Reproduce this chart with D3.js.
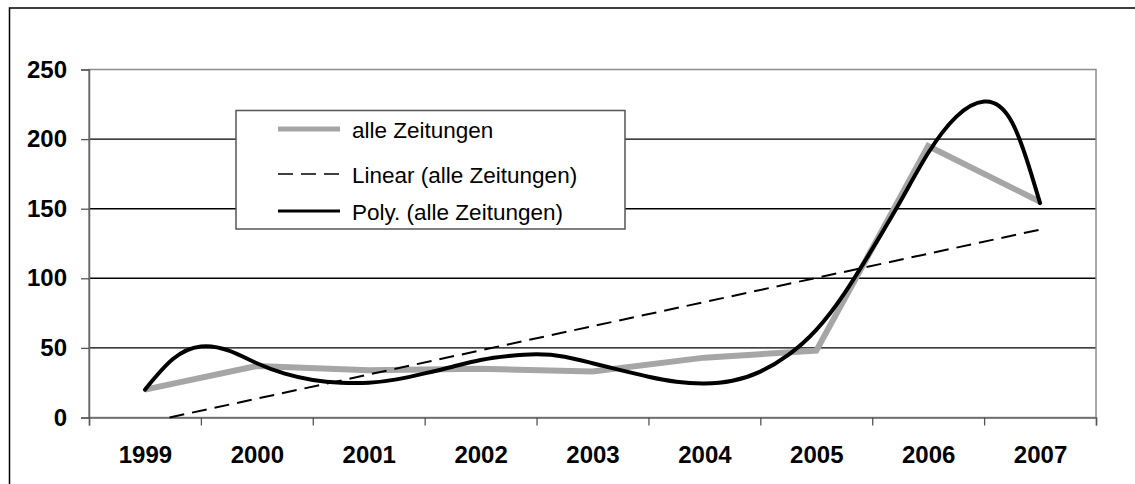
<!DOCTYPE html>
<html>
<head>
<meta charset="utf-8">
<script src="https://cdn.jsdelivr.net/npm/d3@7"></script>
<style>
  html, body { margin: 0; padding: 0; background: #fff; }
  svg { display: block; font-family: "Liberation Sans", Arial, sans-serif; }
</style>
</head>
<body>
<svg id="chart" width="1135" height="484"></svg>
<script>
// values
var years = [1999, 2000, 2001, 2002, 2003, 2004, 2005, 2006, 2007];
var alleZeitungen = [20, 37, 34, 35, 33, 43, 48, 195, 155];

// linear trend (Excel clips it at the 0 axis)
var linearYears = [1999.22, 2007];
var linearValues = [0, 135];

// 6th order poly trend, read every quarter year
var polyYears = [1999, 1999.25, 1999.5, 1999.75, 2000, 2000.25, 2000.5, 2000.75,
    2001, 2001.25, 2001.5, 2001.75, 2002, 2002.25, 2002.5, 2002.75,
    2003, 2003.25, 2003.5, 2003.75, 2004, 2004.25, 2004.5, 2004.75,
    2005, 2005.25, 2005.5, 2005.75, 2006, 2006.25, 2006.5, 2006.75, 2007];
var polyValues = [20, 42, 51, 48, 39, 31.5, 27, 25,
    25, 27.4, 31.7, 36.5, 41.3, 44.2, 45.4, 43.7,
    39, 34, 29.3, 25.7, 24.5, 26.4, 33, 45,
    63, 89, 121, 155, 190, 216, 227, 212, 154];

var yTicks = [0, 50, 100, 150, 200, 250];
var legendLabels = ['alle Zeitungen', 'Linear (alle Zeitungen)', 'Poly. (alle Zeitungen)'];

var GRAY = '#a6a6a6';
var AXIS_FONT = '24px';
var plot = { left: 89, right: 1096, top: 69.5, bottom: 417.5 };

var svg = d3.select('#chart');

// outer frame of the chart object (only top/left are inside the window)
svg.append('rect')
    .attr('x', 9.5).attr('y', 8)
    .attr('width', 1200).attr('height', 600)
    .attr('fill', 'none')
    .attr('stroke', '#000')
    .attr('stroke-width', 1.5);

var x = d3.scaleLinear()
    .domain([years[0] - 0.5, years[years.length - 1] + 0.5])
    .range([plot.left, plot.right]);
var y = d3.scaleLinear()
    .domain([0, 250])
    .range([plot.bottom, plot.top]);

// horizontal gridlines
svg.append('g')
    .selectAll('line')
    .data(yTicks.slice(1, -1))
    .enter().append('line')
    .attr('x1', plot.left).attr('x2', plot.right)
    .attr('y1', function(d) { return y(d); })
    .attr('y2', function(d) { return y(d); })
    .attr('stroke', '#000')
    .attr('stroke-width', 1.4);

// plot area border
svg.append('rect')
    .attr('x', plot.left).attr('y', plot.top)
    .attr('width', plot.right - plot.left)
    .attr('height', plot.bottom - plot.top)
    .attr('fill', 'none')
    .attr('stroke', '#8c8c8c')
    .attr('stroke-width', 1.5);

// y axis
var yAxis = svg.append('g')
    .attr('transform', 'translate(' + plot.left + ',0)')
    .call(d3.axisLeft(y).tickValues(yTicks).tickSize(8).tickPadding(14));
yAxis.select('.domain').attr('stroke', '#666').attr('stroke-width', 1.5);
yAxis.selectAll('.tick line').attr('stroke', '#555').attr('stroke-width', 1.3);
yAxis.selectAll('.tick text')
    .attr('fill', '#000')
    .style('font-size', AXIS_FONT)
    .style('font-weight', 'bold')
    .style('font-family', '"Liberation Sans", Arial, sans-serif');

// x axis: tick marks sit between the categories, labels in the middle
var boundaries = years.map(function(d) { return d - 0.5; }).concat([years[years.length - 1] + 0.5]);
var xTicks = svg.append('g')
    .attr('transform', 'translate(0,' + plot.bottom + ')')
    .call(d3.axisBottom(x).tickValues(boundaries).tickSize(8).tickFormat(''));
xTicks.select('.domain').attr('stroke', '#666').attr('stroke-width', 1.5);
xTicks.selectAll('.tick line').attr('stroke', '#555').attr('stroke-width', 1.3);

var xLabels = svg.append('g')
    .attr('transform', 'translate(0,' + plot.bottom + ')')
    .call(d3.axisBottom(x).tickValues(years).tickSize(0).tickPadding(28).tickFormat(d3.format('d')));
xLabels.select('.domain').remove();
xLabels.selectAll('.tick text')
    .attr('fill', '#000')
    .style('font-size', AXIS_FONT)
    .style('font-weight', 'bold')
    .style('font-family', '"Liberation Sans", Arial, sans-serif');

// data series
var line = d3.line()
    .x(function(d) { return x(d[0]); })
    .y(function(d) { return y(d[1]); });

svg.append('path')
    .datum(d3.zip(years, alleZeitungen))
    .attr('d', line)
    .attr('fill', 'none')
    .attr('stroke', GRAY)
    .attr('stroke-width', 6)
    .attr('stroke-linejoin', 'miter');

svg.append('path')
    .datum(d3.zip(linearYears, linearValues))
    .attr('d', line)
    .attr('fill', 'none')
    .attr('stroke', '#000')
    .attr('stroke-width', 2)
    .attr('stroke-dasharray', '15,8');

svg.append('path')
    .datum(d3.zip(polyYears, polyValues))
    .attr('d', d3.line()
        .x(function(d) { return x(d[0]); })
        .y(function(d) { return y(d[1]); })
        .curve(d3.curveNatural))
    .attr('fill', 'none')
    .attr('stroke', '#000')
    .attr('stroke-width', 4)
    .attr('stroke-linecap', 'round');

// legend
var legend = svg.append('g');
legend.append('rect')
    .attr('x', 236).attr('y', 110.5)
    .attr('width', 389).attr('height', 118.5)
    .attr('fill', '#fff')
    .attr('stroke', '#555')
    .attr('stroke-width', 1.5);

var legendStyles = [
    { stroke: GRAY, width: 5, dash: null },
    { stroke: '#000', width: 1.5, dash: '15,8' },
    { stroke: '#000', width: 3, dash: null }
];
var legendY = [129, 174, 211];

var items = legend.selectAll('.legend-item')
    .data(legendLabels)
    .enter().append('g')
    .attr('class', 'legend-item')
    .attr('transform', function(d, i) { return 'translate(0,' + legendY[i] + ')'; });
items.append('line')
    .attr('x1', 278).attr('x2', 340)
    .attr('stroke', function(d, i) { return legendStyles[i].stroke; })
    .attr('stroke-width', function(d, i) { return legendStyles[i].width; })
    .attr('stroke-dasharray', function(d, i) { return legendStyles[i].dash; });
items.append('text')
    .attr('x', 352)
    .attr('y', 1)
    .attr('dominant-baseline', 'central')
    .style('font-size', '22.5px')
    .text(function(d) { return d; });
</script>
</body>
</html>
